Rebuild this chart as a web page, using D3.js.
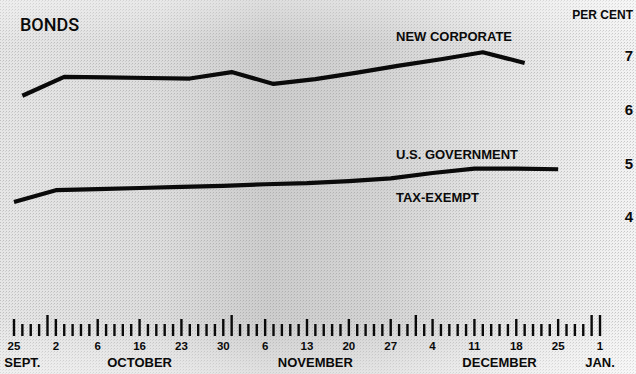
<!DOCTYPE html>
<html>
<head>
<meta charset="utf-8">
<script src="https://cdn.jsdelivr.net/npm/d3@7"></script>
<style>
  body { margin: 0; background: #fff; }
  svg { display: block; }
</style>
</head>
<body>
<svg id="chart" width="636" height="374"></svg>
<script>
// Weekly bond yields, per cent
const corporateDates = ["1967-09-26","1967-10-03","1967-10-10","1967-10-17","1967-10-24","1967-10-31",
  "1967-11-07","1967-11-14","1967-11-21","1967-11-28","1967-12-05","1967-12-12","1967-12-19"];
const corporateValues = [6.26, 6.61, 6.60, 6.59, 6.58, 6.70, 6.48, 6.57, 6.69, 6.82, 6.94, 7.07, 6.87];

const governmentDates = ["1967-09-25","1967-10-02","1967-10-09","1967-10-16","1967-10-23","1967-10-30",
  "1967-11-06","1967-11-13","1967-11-20","1967-11-27","1967-12-04","1967-12-11","1967-12-18","1967-12-25"];
const governmentValues = [4.28, 4.50, 4.52, 4.54, 4.56, 4.58, 4.61, 4.63, 4.67, 4.72, 4.82, 4.90, 4.90, 4.89];

const yTickValues = [4, 5, 6, 7];
const weekLabels = ["25","2","6","16","23","30","6","13","20","27","4","11","18","25","1"];
const monthNames = ["SEPT.","OCTOBER","NOVEMBER","DECEMBER","JAN."];
const monthLabelDates = ["1967-09-26","1967-10-16","1967-11-14","1967-12-14","1968-01-01"];
const seriesLabels = [
  { text: "NEW CORPORATE", value: 7.37 },
  { text: "U.S. GOVERNMENT", value: 5.16 },
  { text: "TAX-EXEMPT", value: 4.36 }
];

const parse = d3.timeParse("%Y-%m-%d");
const startDate = parse("1967-09-25");
const endDate = parse("1968-01-01");
const isWeekday = d => d.getDay() !== 0 && d.getDay() !== 6;
// trading-day position of a date, counted from the first Monday
const tradingIndex = d => d3.timeDay.range(startDate, d).filter(isWeekday).length;
const tradingDays = d3.timeDay.range(startDate, d3.timeDay.offset(endDate, 1)).filter(isWeekday);

const svg = d3.select("#chart");
const W = 636, H = 374;

const x = d3.scaleLinear().domain([0, tradingDays.length - 1]).range([14, 600]);
const y = d3.scaleLinear().domain([4, 7]).range([217, 56]);

// paper tone with halftone grain
const defs = svg.append("defs");
const grad = defs.append("linearGradient").attr("id", "tone").attr("x1", 0).attr("x2", 1).attr("y1", 0).attr("y2", 0);
[[0, "#e6e6e6"], [0.25, "#dddddd"], [0.42, "#cdcdcd"], [0.6, "#d4d4d4"], [0.78, "#e4e4e4"], [1, "#f3f3f3"]]
  .forEach(([o, c]) => grad.append("stop").attr("offset", o).attr("stop-color", c));
const fade = defs.append("linearGradient").attr("id", "fade").attr("x1", 0).attr("x2", 0).attr("y1", 0).attr("y2", 1);
[[0, 0.35], [0.12, 0], [0.85, 0], [1, 0.4]]
  .forEach(([o, a]) => fade.append("stop").attr("offset", o).attr("stop-color", "#fff").attr("stop-opacity", a));
const pat = defs.append("pattern").attr("id", "grain").attr("width", 3).attr("height", 3)
  .attr("patternUnits", "userSpaceOnUse");
pat.append("rect").attr("width", 1).attr("height", 1).attr("fill", "#777");
pat.append("rect").attr("x", 2).attr("y", 1).attr("width", 1).attr("height", 1).attr("fill", "#aaa");

svg.append("rect").attr("width", W).attr("height", H).attr("fill", "url(#tone)");
svg.append("rect").attr("width", W).attr("height", H).attr("fill", "url(#grain)").attr("opacity", 0.35);
svg.append("rect").attr("width", W).attr("height", H).attr("fill", "url(#fade)");

const bold = "'Liberation Sans', Arial, sans-serif";
const ink = "#0a0a0a";

// title and unit
svg.append("text").attr("x", 20).attr("y", 31)
  .attr("font-family", "Roboto, sans-serif").attr("font-weight", 500).attr("font-size", 18)
  .attr("fill", ink).text("BONDS");
svg.append("text").attr("x", 633).attr("y", 19).attr("text-anchor", "end")
  .attr("font-family", bold).attr("font-weight", "bold").attr("font-size", 12)
  .attr("fill", ink).text("PER CENT");

// right-hand scale
svg.append("g").selectAll("text").data(yTickValues).join("text")
  .attr("x", 633).attr("y", d => y(d)).attr("dy", "0.36em").attr("text-anchor", "end")
  .attr("font-family", bold).attr("font-weight", "bold").attr("font-size", 15)
  .attr("fill", ink).text(d => d);

// yield lines
const line = d3.line().x(d => x(d.i)).y(d => y(d.v));
const corporate = corporateDates.map((d, k) => ({ i: tradingIndex(parse(d)), v: corporateValues[k] }));
const government = governmentDates.map((d, k) => ({ i: tradingIndex(parse(d)), v: governmentValues[k] }));
[corporate, government].forEach(s => {
  svg.append("path").datum(s).attr("d", line)
    .attr("fill", "none").attr("stroke", ink).attr("stroke-width", 4.2)
    .attr("stroke-linejoin", "round").attr("stroke-linecap", "butt");
});

// series labels
svg.append("g").selectAll("text").data(seriesLabels).join("text")
  .attr("x", 396).attr("y", d => y(d.value)).attr("dy", "0.36em")
  .attr("font-family", bold).attr("font-weight", "bold").attr("font-size", 13)
  .attr("fill", ink).text(d => d.text);

// trading-day ticks: Mondays longer, month ends longest
const lastOfMonth = new Set();
d3.groups(tradingDays, d => d.getFullYear() * 12 + d.getMonth())
  .forEach(([, days]) => lastOfMonth.add(+days[days.length - 1]));
lastOfMonth.add(+endDate);
svg.append("g").selectAll("line").data(tradingDays).join("line")
  .attr("x1", (d, k) => x(k)).attr("x2", (d, k) => x(k))
  .attr("y1", 336)
  .attr("y2", d => lastOfMonth.has(+d) ? 315 : d.getDay() === 1 ? 319 : 324)
  .attr("stroke", ink).attr("stroke-width", 2.4);

// week labels on Mondays
const mondays = tradingDays.filter(d => d.getDay() === 1);
svg.append("g").selectAll("text").data(mondays).join("text")
  .attr("x", d => x(tradingIndex(d))).attr("y", 350).attr("text-anchor", "middle")
  .attr("font-family", bold).attr("font-weight", "bold").attr("font-size", 11.5)
  .attr("fill", ink).text((d, k) => weekLabels[k]);

// month names
svg.append("g").selectAll("text").data(monthNames).join("text")
  .attr("x", (d, k) => x(tradingIndex(parse(monthLabelDates[k])))).attr("y", 367)
  .attr("text-anchor", "middle")
  .attr("font-family", bold).attr("font-weight", "bold").attr("font-size", 13)
  .attr("fill", ink).text(d => d);
</script>
</body>
</html>
